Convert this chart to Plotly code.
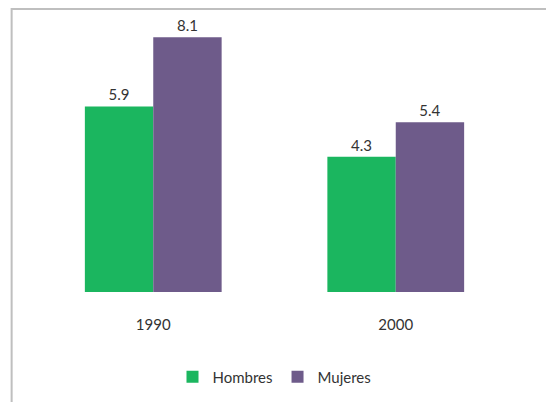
import plotly.graph_objects as go

categories = ["1990", "2000"]
hombres = [5.9, 4.3]
mujeres = [8.1, 5.4]
series_names = ["Hombres", "Mujeres"]

GREEN = "#1BB65F"
PURPLE = "#6E5B8A"
FONT = "Lato, Liberation Sans Narrow, Open Sans, Arial"
TXT = "#333333"

fig = go.Figure()
for name, vals, col in [(series_names[0], hombres, GREEN), (series_names[1], mujeres, PURPLE)]:
    fig.add_trace(go.Bar(
        x=categories, y=vals, name=name, marker=dict(color=col, line=dict(width=0)),
        text=[f"{v:.1f}" for v in vals], textposition="outside", cliponaxis=False,
        textfont=dict(family=FONT, size=15, color=TXT),
    ))

fig.update_layout(
    width=546, height=402,
    margin=dict(l=32, r=29, t=9, b=110),
    paper_bgcolor="white", plot_bgcolor="rgba(0,0,0,0)",
    barmode="group", bargap=0.436, bargroupgap=0,
    showlegend=True,
    legend=dict(orientation="h", x=0.5, xanchor="center", y=-0.30, yanchor="middle",
                font=dict(family=FONT, size=15, color=TXT),
                itemwidth=30, traceorder="normal"),
    xaxis=dict(type="category", showline=False, showgrid=False, ticks="", ticklabelstandoff=22,
               tickfont=dict(family=FONT, size=15, color=TXT)),
    yaxis=dict(range=[0, 9], visible=False, showgrid=False),
    shapes=[dict(type="rect", xref="paper", yref="paper", x0=-0.042, x1=1.08,
                 y0=-0.5, y1=1.0, line=dict(color="#BFBFBF", width=2), layer="below")],
)

fig.write_html("out.html", config={"displayModeBar": False},
               post_script="document.body.style.margin='0';")
